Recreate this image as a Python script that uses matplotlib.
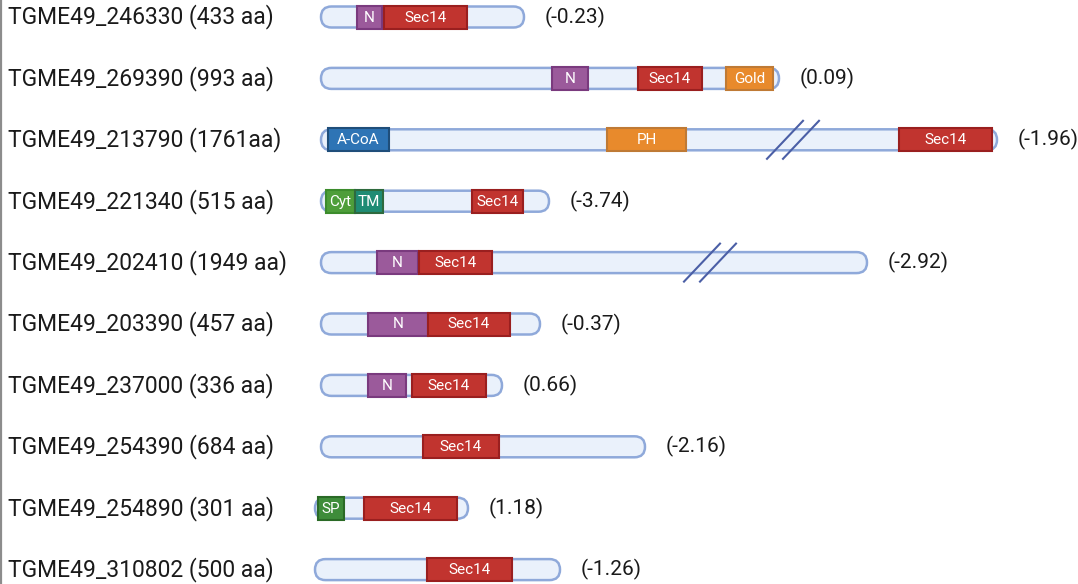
import matplotlib.pyplot as plt
from matplotlib.patches import FancyBboxPatch, Rectangle

plt.rcParams['font.family'] = ['Roboto', 'DejaVu Sans']

# gene ids, lengths and scores shown at the right
genes = ["TGME49_246330", "TGME49_269390", "TGME49_213790", "TGME49_221340",
         "TGME49_202410", "TGME49_203390", "TGME49_237000", "TGME49_254390",
         "TGME49_254890", "TGME49_310802"]
lengths = ["433 aa", "993 aa", "1761aa", "515 aa", "1949 aa",
           "457 aa", "336 aa", "684 aa", "301 aa", "500 aa"]
scores = ["(-0.23)", "(0.09)", "(-1.96)", "(-3.74)", "(-2.92)",
          "(-0.37)", "(0.66)", "(-2.16)", "(1.18)", "(-1.26)"]

# protein bar extent on the drawing scale
bar_start = [321, 321, 321, 321, 321, 321, 321, 321, 315, 315]
bar_end = [524, 779, 997, 549, 867, 540, 502, 645, 468, 560]

# domains per protein: (name, start, end)
domains = [
    [("N", 357, 382), ("Sec14", 384, 467)],
    [("N", 552, 588), ("Sec14", 638, 702), ("Gold", 726, 773)],
    [("A-CoA", 328, 389), ("PH", 607, 686), ("Sec14", 899, 992)],
    [("Cyt", 326, 355), ("TM", 355, 383), ("Sec14", 472, 523)],
    [("N", 377, 418), ("Sec14", 419, 492)],
    [("N", 368, 428), ("Sec14", 428, 510)],
    [("N", 368, 406), ("Sec14", 412, 486)],
    [("Sec14", 423, 499)],
    [("SP", 318, 344), ("Sec14", 364, 457)],
    [("Sec14", 427, 512)],
]

# axis breaks (row index -> centre of the "//" mark)
breaks = {2: 793, 4: 710}

dom_colors = {
    "N": ("#9B5A9B", "#7A3A7E"),
    "Sec14": ("#C1342F", "#9A1F1F"),
    "Gold": ("#E88A2C", "#BF7A35"),
    "PH": ("#E88A2C", "#BF7A35"),
    "A-CoA": ("#2E74B5", "#1F4E7A"),
    "Cyt": ("#4E9E3A", "#3C8C2C"),
    "TM": ("#1F8C74", "#2E6A3E"),
    "SP": ("#3E8C3A", "#2A6A26"),
}
bar_fill = "#EAF1FB"
bar_edge = "#8FA9DA"

fig = plt.figure(figsize=(10.78, 5.84), dpi=100)
ax = fig.add_axes([0, 0, 1, 1])
ax.set_xlim(0, 1078)
ax.set_ylim(584, 0)
ax.axis("off")

ax.plot([1, 1], [0, 584], color="#8C8C8C", lw=1.6)

row_gap = 61.4
bar_h = 21
dom_h = 23

for i, gene in enumerate(genes):
    y = 17 + i * row_gap
    ax.text(8, y, f"{gene} ({lengths[i]})", fontsize=16.5, va="center",
            ha="left", color="#1A1A1A")

    x0, x1 = bar_start[i], bar_end[i]
    bar = FancyBboxPatch((x0, y - bar_h / 2), x1 - x0, bar_h,
                         boxstyle=f"round,pad=0,rounding_size={bar_h / 2}",
                         facecolor=bar_fill, edgecolor=bar_edge, lw=1.8, zorder=2)
    ax.add_patch(bar)

    if i in breaks:
        bx = breaks[i]
        for dx in (-8, 8):
            ax.plot([bx + dx - 18, bx + dx + 18], [y + 19, y - 19],
                    color="#4B5FA6", lw=1.5, zorder=4)

    for name, s, e in domains[i]:
        fc, ec = dom_colors[name]
        ax.add_patch(Rectangle((s, y - dom_h / 2), e - s, dom_h,
                               facecolor=fc, edgecolor=ec, lw=1.5, zorder=5))
        ax.text((s + e) / 2, y + 0.5, name, fontsize=11, color="white",
                ha="center", va="center", zorder=6)

    ax.text(x1 + 21, y, scores[i], fontsize=15, va="center", ha="left",
            color="#1A1A1A")

fig.savefig("out.png", dpi=100)
